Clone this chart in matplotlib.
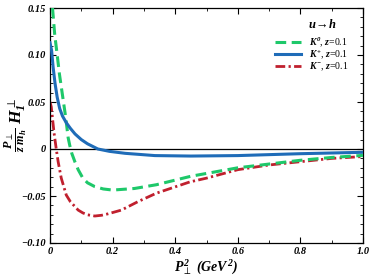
import numpy as np
import matplotlib
matplotlib.use("Agg")
import matplotlib.pyplot as plt
from matplotlib.ticker import MultipleLocator, FixedLocator, FixedFormatter

plt.rcParams['font.family'] = ['Liberation Serif', 'DejaVu Serif']
plt.rcParams['mathtext.fontset'] = 'custom'
plt.rcParams['mathtext.rm'] = 'Liberation Serif:bold:italic'
plt.rcParams['mathtext.it'] = 'Liberation Serif:bold:italic'
plt.rcParams['mathtext.bf'] = 'Liberation Serif:bold'

# Data
x_green = [0.008, 0.015, 0.023, 0.03, 0.04, 0.05, 0.058, 0.063, 0.07, 0.08, 0.09, 0.105, 0.12, 0.143, 0.17, 0.20, 0.27, 0.34, 0.45, 0.60, 0.70, 0.80, 0.90, 1.00]
y_green = [0.150, 0.122, 0.100, 0.080, 0.057, 0.034, 0.012, 0.004, -0.005, -0.014, -0.022, -0.031, -0.036, -0.040, -0.0425, -0.0437, -0.042, -0.038, -0.029, -0.020, -0.016, -0.012, -0.009, -0.0068]

x_blue = [0.0, 0.005, 0.01, 0.016, 0.023, 0.031, 0.04, 0.052, 0.065, 0.08, 0.10, 0.12, 0.153, 0.19, 0.24, 0.335, 0.45, 0.60, 0.80, 1.00]
y_blue = [0.113, 0.105, 0.087, 0.070, 0.055, 0.043, 0.035, 0.028, 0.022, 0.016, 0.010, 0.0055, 0.0, -0.0025, -0.0046, -0.007, -0.0075, -0.007, -0.005, -0.0035]

x_red = [0.0, 0.004, 0.013, 0.020, 0.026, 0.036, 0.052, 0.065, 0.079, 0.09, 0.105, 0.12, 0.143, 0.165, 0.185, 0.228, 0.281, 0.34, 0.447, 0.50, 0.60, 0.70, 0.80, 0.90, 1.00]
y_red = [0.050, 0.045, 0.017, 0.000, -0.0135, -0.031, -0.049, -0.056, -0.061, -0.065, -0.068, -0.070, -0.0713, -0.0705, -0.069, -0.065, -0.056, -0.047, -0.035, -0.031, -0.022, -0.017, -0.0135, -0.010, -0.008]

labels = [r'$K^0$, $z$=0.1', r'$K^{+}$, $z$=0.1', r'$K^{-}$, $z$=0.1']
legend_title = r'$u\!\rightarrow\! h$'
x_ticks = [0, 0.2, 0.4, 0.6, 0.8, 1.0]
x_ticklabels = ['0', '0.2', '0.4', '0.6', '0.8', '1.0']
y_ticks = [-0.10, -0.05, 0, 0.05, 0.10, 0.15]
y_ticklabels = ['\u22120.10', '\u22120.05', '0', '0.05', '0.10', '0.15']

fig = plt.figure(figsize=(3.74, 2.8), dpi=100)
ax = fig.add_axes([50/374, 37/280, 313/374, 235/280])

c_green = '#1ec86a'
c_blue = '#1f6cb8'
c_red = '#c0202e'

ax.axhline(0, color='black', lw=0.9, zorder=1)
ax.plot(x_green, y_green, color=c_green, lw=2.2, ls=(0, (3.5, 1.8)), label=labels[0], zorder=3)
ax.plot(x_blue, y_blue, color=c_blue, lw=2.2, ls='-', label=labels[1], zorder=4)
ax.plot(x_red, y_red, color=c_red, lw=2.0, ls=(0, (3.5, 1.2, 0.8, 1.2)), label=labels[2], zorder=2)

ax.set_xlim(0, 1.0)
ax.set_ylim(-0.10, 0.15)
ax.xaxis.set_major_locator(FixedLocator(x_ticks))
ax.xaxis.set_major_formatter(FixedFormatter(x_ticklabels))
ax.yaxis.set_major_locator(FixedLocator(y_ticks))
ax.yaxis.set_major_formatter(FixedFormatter(y_ticklabels))
ax.xaxis.set_minor_locator(MultipleLocator(0.1))
ax.yaxis.set_minor_locator(MultipleLocator(0.01))
ax.tick_params(which='both', direction='in', top=True, right=True)
ax.tick_params(which='major', length=4, width=0.8, pad=3)
ax.tick_params(which='minor', length=2, width=0.6)
for lab in ax.get_xticklabels() + ax.get_yticklabels():
    lab.set_fontsize(7.5)
    lab.set_fontweight('bold')
    lab.set_fontstyle('italic')
for s in ax.spines.values():
    s.set_linewidth(0.9)

ax.set_xlabel(r'$P_{\perp}^{2}$ $(GeV^{2})$', fontsize=10, labelpad=1)
fig.text(16/374, 1 - 125/280, r'$\frac{P_{\perp}}{z\;m_h}\;H_1^{\perp}$',
         rotation=90, ha='center', va='center', fontsize=12.5)

ax.text(0.869, 0.928, legend_title, transform=ax.transAxes, ha='center', va='center', fontsize=9)
leg = ax.legend(loc='upper right', bbox_to_anchor=(0.955, 0.885), frameon=False,
                borderaxespad=0, borderpad=0,
                fontsize=7, handlelength=2.6, handletextpad=0.9, labelspacing=-0.05)

fig.savefig('out.png', dpi=100)
